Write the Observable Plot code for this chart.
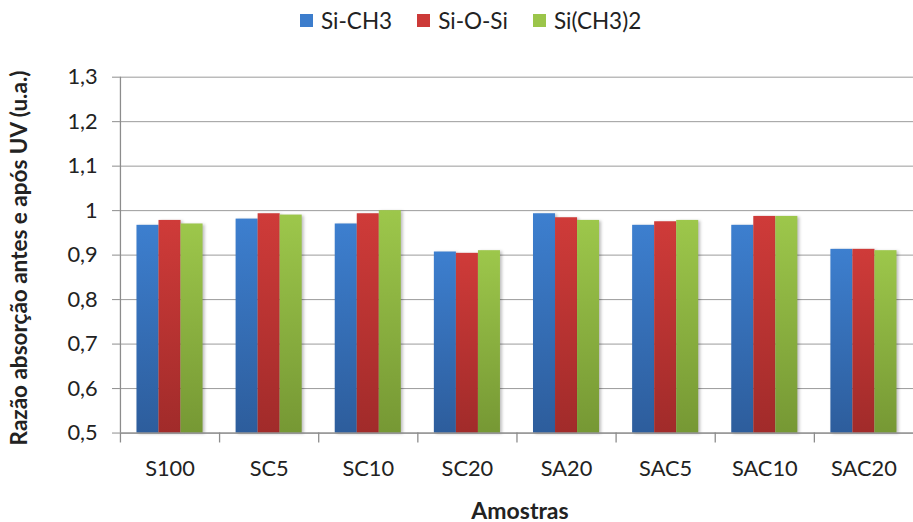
<!DOCTYPE html>
<html>
<head>
<meta charset="utf-8">
<script src="https://cdn.jsdelivr.net/npm/d3@7"></script>
<script src="https://cdn.jsdelivr.net/npm/@observablehq/plot@0.6"></script>
<style>
  html, body { margin: 0; padding: 0; background: #fff; }
  body { width: 913px; height: 522px; overflow: hidden; position: relative; font-family: Lato, "Open Sans", sans-serif; color: #222; }
  #legend { position: absolute; left: 300px; top: 5px; height: 30px; display: flex; align-items: center; font-size: 22.5px; }
  #legend .item { display: flex; align-items: center; margin-right: 25px; }
  #legend .sw { width: 13px; height: 13px; margin-right: 8px; }
  #chart { position: absolute; left: 0; top: 40px; }
  #ytitle { position: absolute; left: 18px; top: 258px; transform: translate(-50%, -50%) rotate(-90deg); white-space: nowrap; font-weight: bold; font-size: 22.5px; }
  #xtitle { position: absolute; left: 520px; top: 510px; transform: translate(-50%, -50%); font-weight: bold; font-size: 23px; line-height: 1; }
  svg g[aria-label="bar"] { filter: drop-shadow(2px 1px 1.5px rgba(0,0,0,0.25)); }
</style>
</head>
<body>
<div id="legend"></div>
<div id="chart"></div>
<div id="ytitle">Razão absorção antes e após UV (u.a.)</div>
<div id="xtitle">Amostras</div>
<script>
const categories = ["S100", "SC5", "SC10", "SC20", "SA20", "SAC5", "SAC10", "SAC20"];
const seriesNames = ["Si-CH3", "Si-O-Si", "Si(CH3)2"];
const siCH3   = [0.967, 0.981, 0.970, 0.907, 0.993, 0.967, 0.967, 0.913];
const siOSi   = [0.978, 0.993, 0.993, 0.904, 0.984, 0.975, 0.987, 0.913];
const siCH3_2 = [0.970, 0.990, 1.000, 0.910, 0.978, 0.978, 0.987, 0.910];
const yTicks = [0.5, 0.6, 0.7, 0.8, 0.9, 1.0, 1.1, 1.2, 1.3];

const seriesValues = [siCH3, siOSi, siCH3_2];
const gradients = [
  ["#3d7fcf", "#2d5d9c"],
  ["#cf3b39", "#a12b2a"],
  ["#9dc74b", "#769834"]
];
const swatch = ["#3c7dcc", "#cc3a38", "#9bc54a"];

const width = 921, height = 482;
const marginLeft = 121, marginRight = 0, marginTop = 37, marginBottom = 86;
const band = (width - marginLeft - marginRight) / categories.length;
const groupW = band * 2 / 3;
const barW = groupW / 3;
const pad = (band - groupW) / 2;

const fmt = v => String(+v.toFixed(1)).replace(".", ",");

const barMarks = seriesValues.map((vals, i) => {
  const data = categories.map((c, j) => ({cat: c, value: vals[j]}));
  return Plot.barY(data, {
    x: "cat", y1: yTicks[0], y2: "value",
    fill: `url(#grad${i})`,
    insetLeft: pad + barW * i,
    insetRight: band - (pad + barW * (i + 1))
  });
});

const plot = Plot.plot({
  width, height, marginLeft, marginRight, marginTop, marginBottom,
  style: {fontFamily: "Lato, 'Open Sans', sans-serif", fontSize: "22px", color: "#222", background: "transparent"},
  x: {domain: categories, padding: 0, axis: null},
  y: {domain: [yTicks[0], yTicks[yTicks.length - 1]], axis: null},
  marks: [
    Plot.gridY(yTicks, {stroke: "#9a9a9a", strokeOpacity: 1, strokeWidth: 1}),
    ...barMarks,
    Plot.ruleY([yTicks[0]], {stroke: "#8c8c8c", strokeWidth: 1.3}),
    Plot.ruleX([categories[0]], {y1: yTicks[0], y2: yTicks[yTicks.length - 1], dx: -band / 2, stroke: "#8c8c8c", strokeWidth: 1.3}),
    Plot.ruleX(categories, {y1: yTicks[0], y2: yTicks[0], dx: -band / 2, insetBottom: -10, stroke: "#8c8c8c", strokeWidth: 1.3}),
    Plot.axisY(yTicks, {tickSize: 8, tickPadding: 15, tickFormat: fmt, label: null, stroke: "#8c8c8c", fontSize: 22, fill: "#222"}),
    Plot.axisX({tickSize: 0, tickPadding: 28, label: null, fontSize: 22, fill: "#222"})
  ]
});

// gradient definitions for the bars
const svg = d3.select(plot);
const defs = svg.insert("defs", ":first-child");
gradients.forEach((g, i) => {
  const lg = defs.append("linearGradient").attr("id", `grad${i}`).attr("x1", 0).attr("y1", 0).attr("x2", 0).attr("y2", 1);
  lg.append("stop").attr("offset", "0%").attr("stop-color", g[0]);
  lg.append("stop").attr("offset", "100%").attr("stop-color", g[1]);
});
document.getElementById("chart").appendChild(plot);

// legend
const legend = d3.select("#legend");
seriesNames.forEach((name, i) => {
  const it = legend.append("div").attr("class", "item");
  it.append("div").attr("class", "sw").style("background", swatch[i]);
  it.append("span").text(name);
});
</script>
</body>
</html>
